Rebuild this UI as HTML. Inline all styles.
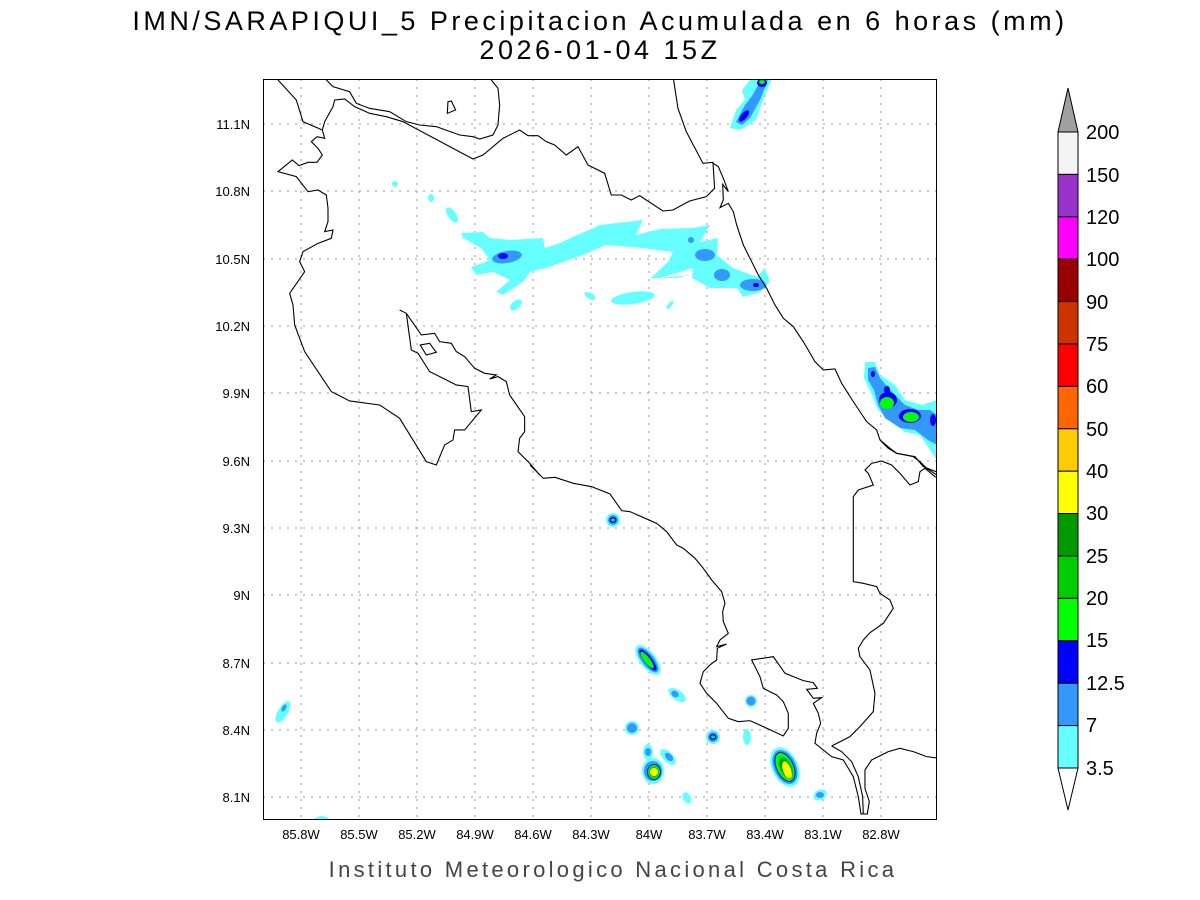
<!DOCTYPE html>
<html><head><meta charset="utf-8"><style>
body{margin:0;background:#fff;}
svg{display:block;font-family:"Liberation Sans","DejaVu Sans",sans-serif;}
</style></head><body>
<svg width="1200" height="900" viewBox="0 0 1200 900" xmlns="http://www.w3.org/2000/svg">
<rect width="1200" height="900" fill="#fff"/>
<text x="600" y="30" font-size="27" text-anchor="middle" fill="#000" letter-spacing="3.5" font-weight="normal">IMN/SARAPIQUI_5 Precipitacion Acumulada en 6 horas (mm)</text>
<text x="600" y="59" font-size="27" text-anchor="middle" fill="#000" letter-spacing="3.5">2026-01-04 15Z</text>

<defs><clipPath id="c"><rect x="263" y="79" width="674" height="741"/></clipPath></defs>
<g clip-path="url(#c)">
<g stroke="#999" stroke-width="1" stroke-dasharray="2,6">
<line x1="301" y1="79" x2="301" y2="820"/><line x1="359" y1="79" x2="359" y2="820"/><line x1="417" y1="79" x2="417" y2="820"/><line x1="475" y1="79" x2="475" y2="820"/><line x1="533" y1="79" x2="533" y2="820"/><line x1="591" y1="79" x2="591" y2="820"/><line x1="649" y1="79" x2="649" y2="820"/><line x1="707" y1="79" x2="707" y2="820"/><line x1="765" y1="79" x2="765" y2="820"/><line x1="823" y1="79" x2="823" y2="820"/><line x1="881" y1="79" x2="881" y2="820"/>
<line x1="263" y1="124" x2="937" y2="124"/><line x1="263" y1="191" x2="937" y2="191"/><line x1="263" y1="259" x2="937" y2="259"/><line x1="263" y1="326" x2="937" y2="326"/><line x1="263" y1="393" x2="937" y2="393"/><line x1="263" y1="461" x2="937" y2="461"/><line x1="263" y1="528" x2="937" y2="528"/><line x1="263" y1="595" x2="937" y2="595"/><line x1="263" y1="663" x2="937" y2="663"/><line x1="263" y1="730" x2="937" y2="730"/><line x1="263" y1="797" x2="937" y2="797"/>
</g>

<polygon fill="#66ffff" points="461,233 483,232 490,238 510,240 543,238 545,248 560,243 575,236 585,232 600,225 643,220 636,235 660,229 693,228 710,225 700,242 718,238 717,255 733,268 757,277 765,268 770,282 760,292 743,297 737,288 710,288 692,278 693,268 680,272 660,278 690,275 676,278 651,278 668,262 673,252 643,248 606,245 583,255 546,268 530,272 523,282 503,295 496,292 510,280 493,272 476,275 471,267 483,263 490,260 481,248 463,238"/>
<ellipse cx="507" cy="257" rx="15" ry="6" fill="#3399ff" transform="rotate(-10 507 257)"/>
<ellipse cx="503" cy="256" rx="5" ry="3" fill="#0000ff"/>
<ellipse cx="691" cy="240" rx="3" ry="3" fill="#3399ff"/>
<ellipse cx="705" cy="255" rx="10" ry="6" fill="#3399ff"/>
<ellipse cx="722" cy="275" rx="8" ry="6" fill="#3399ff"/>
<ellipse cx="753" cy="285" rx="13" ry="6" fill="#3399ff"/>
<ellipse cx="756" cy="285" rx="3" ry="2" fill="#0000ff"/>
<ellipse cx="395" cy="184" rx="3" ry="3" fill="#66ffff"/>
<ellipse cx="431" cy="198" rx="3" ry="4" fill="#66ffff"/>
<ellipse cx="452" cy="215" rx="4" ry="9" fill="#66ffff" transform="rotate(-35 452 215)"/>
<ellipse cx="516" cy="305" rx="4" ry="7" fill="#66ffff" transform="rotate(50 516 305)"/>
<ellipse cx="590" cy="296" rx="6" ry="3" fill="#66ffff" transform="rotate(30 590 296)"/>
<ellipse cx="633" cy="298" rx="22" ry="6" fill="#66ffff" transform="rotate(-8 633 298)"/>
<ellipse cx="670" cy="305" rx="2" ry="5" fill="#66ffff" transform="rotate(40 670 305)"/>
<polygon fill="#66ffff" points="730,128 736,110 745,100 742,90 750,80 772,79 763,100 756,120 740,130"/>
<polygon fill="#3399ff" points="736,122 745,105 752,96 760,82 768,80 760,100 750,118 742,125"/>
<ellipse cx="744" cy="116" rx="3" ry="7" fill="#0000ff" transform="rotate(40 744 116)"/>
<ellipse cx="762" cy="83" rx="5" ry="4" fill="#0000ff"/>
<ellipse cx="762" cy="82" rx="3" ry="2" fill="#00ff00"/>
<polygon fill="#66ffff" points="865,362 875,362 880,375 895,385 905,400 922,405 937,400 937,460 930,450 920,435 905,432 890,420 878,410 872,395 864,378"/>
<polygon fill="#3399ff" points="868,368 875,367 880,378 890,390 905,405 918,410 930,410 937,415 937,445 928,440 915,430 900,428 885,418 878,405 874,390 868,380"/>
<ellipse cx="873" cy="374" rx="2" ry="3" fill="#0000ff"/>
<ellipse cx="888" cy="400" rx="9" ry="8" fill="#0000ff"/>
<ellipse cx="887" cy="403" rx="7" ry="6" fill="#00ff00"/>
<ellipse cx="887" cy="390" rx="3" ry="4" fill="#0000ff"/>
<ellipse cx="910" cy="416" rx="11" ry="7" fill="#0000ff"/>
<ellipse cx="911" cy="417" rx="8" ry="5" fill="#00ff00"/>
<ellipse cx="933" cy="420" rx="3" ry="6" fill="#0000ff"/>
<g>
<ellipse cx="613" cy="520" rx="7" ry="7" fill="#66ffff"/><ellipse cx="613" cy="520" rx="5" ry="5" fill="#3399ff"/><ellipse cx="613" cy="520" rx="3.5" ry="3" fill="#0000ff"/><ellipse cx="613" cy="520" rx="2" ry="1.5" fill="#00ff00"/>
<ellipse cx="648" cy="660" rx="8" ry="18" fill="#66ffff" transform="rotate(-38 648 660)"/><ellipse cx="648" cy="660" rx="6" ry="15" fill="#3399ff" transform="rotate(-38 648 660)"/><ellipse cx="648" cy="660" rx="4" ry="13" fill="#0000ff" transform="rotate(-38 648 660)"/><ellipse cx="647" cy="660" rx="3" ry="10" fill="#00ff00" transform="rotate(-38 647 660)"/>
<ellipse cx="677" cy="695" rx="5" ry="10" fill="#66ffff" transform="rotate(-55 677 695)"/><ellipse cx="675" cy="694" rx="3" ry="4" fill="#3399ff" transform="rotate(-55 675 694)"/>
<ellipse cx="632" cy="728" rx="7" ry="7" fill="#66ffff"/><ellipse cx="632" cy="728" rx="5" ry="5" fill="#3399ff"/>
<ellipse cx="713" cy="737" rx="7" ry="7" fill="#66ffff"/><ellipse cx="713" cy="737" rx="5" ry="5" fill="#3399ff"/><ellipse cx="713" cy="737" rx="3.5" ry="3" fill="#0000ff"/><ellipse cx="713" cy="737" rx="2" ry="1.5" fill="#00ff00"/>
<ellipse cx="751" cy="701" rx="6" ry="6" fill="#66ffff"/><ellipse cx="751" cy="701" rx="4.5" ry="4.5" fill="#3399ff"/>
<ellipse cx="747" cy="737" rx="4" ry="8" fill="#66ffff"/>
<ellipse cx="648" cy="752" rx="5" ry="8" fill="#66ffff"/><ellipse cx="648" cy="752" rx="3" ry="4" fill="#3399ff"/>
<ellipse cx="668" cy="757" rx="5" ry="10" fill="#66ffff" transform="rotate(-45 668 757)"/><ellipse cx="669" cy="757" rx="3" ry="5" fill="#3399ff" transform="rotate(-45 669 757)"/>
<ellipse cx="653" cy="771" rx="11" ry="13" fill="#66ffff"/><ellipse cx="653" cy="771" rx="9" ry="10" fill="#3399ff"/><ellipse cx="654" cy="772" rx="7" ry="8" fill="#0000ff"/><ellipse cx="654" cy="772" rx="6" ry="7" fill="#00ff00"/><ellipse cx="654" cy="772" rx="5" ry="5.5" fill="#00cc00"/><ellipse cx="654" cy="772" rx="4" ry="4" fill="#ffff00"/>
<ellipse cx="687" cy="798" rx="4" ry="6" fill="#66ffff" transform="rotate(-30 687 798)"/>
<ellipse cx="785" cy="767" rx="13" ry="21" fill="#66ffff" transform="rotate(-25 785 767)"/><ellipse cx="785" cy="767" rx="11" ry="18" fill="#3399ff" transform="rotate(-25 785 767)"/><ellipse cx="785" cy="767" rx="9" ry="16" fill="#0000ff" transform="rotate(-25 785 767)"/><ellipse cx="785" cy="767" rx="8" ry="15" fill="#00ff00" transform="rotate(-25 785 767)"/><ellipse cx="786" cy="768" rx="6" ry="12" fill="#00cc00" transform="rotate(-25 786 768)"/><ellipse cx="786" cy="768" rx="5" ry="10" fill="#009900" transform="rotate(-25 786 768)"/><ellipse cx="787" cy="770" rx="4" ry="9" fill="#ffff00" transform="rotate(-20 787 770)"/>
<ellipse cx="820" cy="795" rx="7" ry="5" fill="#66ffff" transform="rotate(-30 820 795)"/><ellipse cx="820" cy="795" rx="4" ry="3" fill="#3399ff"/>
<ellipse cx="283" cy="712" rx="5" ry="12" fill="#66ffff" transform="rotate(30 283 712)"/><ellipse cx="284" cy="708" rx="2" ry="4" fill="#3399ff" transform="rotate(30 284 708)"/>
<ellipse cx="322" cy="820" rx="7" ry="4" fill="#66ffff"/>
</g>

<g fill="none" stroke="#000" stroke-width="1.1">
<g transform="translate(263,75) scale(0.3333)">
<polyline vector-effect="non-scaling-stroke" points="45,15 100,75 120,140 178,165 185,190 162,185 145,200 165,220 178,240 162,262 135,262 108,272 88,255 45,290 100,305 135,350 165,345 190,360 195,400 195,440 185,470 210,465 205,490 165,505 120,530 110,560 125,590 80,655 90,690 95,750 125,830 205,950 260,978 350,990 410,1030 490,1160 520,1170 545,1110 570,1095 575,1065 605,1065 655,1005 625,1010 615,935 580,930 540,910 500,890 465,835 445,825 430,715 410,705"/>
<polyline vector-effect="non-scaling-stroke" points="430,715 475,780 515,775 530,800 565,805 580,830 605,845 635,880 665,895 700,900 680,912 705,905 730,920 740,960 785,1025 785,1070 770,1090 765,1130 800,1165 830,1200"/>
<polyline vector-effect="non-scaling-stroke" points="178,165 185,140 210,95 215,75 245,72 275,95 320,115 370,125 420,140 630,252 660,240 720,190 770,165 795,182 825,182 850,200 875,210 910,240 945,215 975,270 1025,295 1045,360 1075,360 1105,375 1130,362 1200,408 1230,405 1280,378 1330,365 1355,340 1350,262 1320,265 1270,170 1245,100 1232,15"/>
<polyline vector-effect="non-scaling-stroke" points="190,15 210,35 260,50 280,85 320,100 380,110 430,140 470,150 520,155 590,180 630,185 650,192 690,180 705,150 710,90 705,40 685,15"/>
<polygon vector-effect="non-scaling-stroke" points="555,80 565,78 578,105 553,115"/>
<polygon vector-effect="non-scaling-stroke" points="472,810 500,805 520,832 490,840"/>
</g>
<g transform="translate(660,75) scale(0.3333)">
<polyline vector-effect="non-scaling-stroke" points="155,262 175,275 190,310 205,350 188,328 190,375 180,398 205,385 220,410 230,450 250,510 270,550 295,600 320,640 345,690 370,730 400,755 430,800 465,860 490,885 525,882 545,925 580,980 620,1040 650,1065 660,1095 690,1120 710,1135 760,1145 780,1160 800,1180 830,1200"/>
</g>
<g transform="translate(530,440) scale(0.3333)">
<polyline vector-effect="non-scaling-stroke" points="0,75 40,115 75,112 130,130 185,140 240,162 275,212 300,215 380,250 410,275 440,315 460,325 495,355 520,385 545,420 575,455 585,490 578,515 580,545 595,580 570,600 560,620 590,612 562,625 560,660 540,675 520,695 510,730 530,760 560,790 595,835 625,845 660,842 700,860 760,888 775,865 775,820 760,785 740,765 700,745 690,710 665,660 730,650 765,700 820,722 850,728 862,745 830,748 850,775 875,773 850,790 865,820 872,850 860,880 855,910 905,950 940,960 970,1010 985,1070 993,1122 1012,1122 1018,1085 1005,1045 1005,990 1025,960 1075,935 1110,925 1150,935 1190,950 1230,955"/>
<polyline vector-effect="non-scaling-stroke" points="905,918 935,935 965,965 985,1010 998,1070 1000,1122"/>
<polyline vector-effect="non-scaling-stroke" points="905,918 960,890 990,860 1030,815 1035,760 1020,690 990,650 985,625 1000,600 1020,578 1060,550 1090,505 1080,480 1050,460 1040,440 1000,430 970,425 970,170 985,150 1030,135 1015,100 1005,90 1025,70 1055,63 1085,75 1110,100 1140,135 1165,125 1170,95 1185,85 1215,110 1230,115"/>
<polyline vector-effect="non-scaling-stroke" points="1050,0 1075,25 1100,40 1155,50 1180,80 1230,100"/>
</g>
</g>
</g>
<rect x="263.5" y="79.5" width="673" height="740" fill="none" stroke="#000" stroke-width="1"/>

<g font-size="13" fill="#000" text-anchor="middle">
<text x="301" y="839">85.8W</text><text x="359" y="839">85.5W</text><text x="417" y="839">85.2W</text><text x="475" y="839">84.9W</text><text x="533" y="839">84.6W</text><text x="591" y="839">84.3W</text><text x="649" y="839">84W</text><text x="707" y="839">83.7W</text><text x="765" y="839">83.4W</text><text x="823" y="839">83.1W</text><text x="881" y="839">82.8W</text>
</g>
<g font-size="13" fill="#000" text-anchor="end">
<text x="250" y="129">11.1N</text><text x="250" y="196">10.8N</text><text x="250" y="264">10.5N</text><text x="250" y="331">10.2N</text><text x="250" y="398">9.9N</text><text x="250" y="466">9.6N</text><text x="250" y="533">9.3N</text><text x="250" y="600">9N</text><text x="250" y="668">8.7N</text><text x="250" y="735">8.4N</text><text x="250" y="802">8.1N</text>
</g>
<text x="613" y="877" font-size="22" text-anchor="middle" fill="#444" letter-spacing="3.3">Instituto Meteorologico Nacional Costa Rica</text>

<g stroke="#000" stroke-width="1">
<polygon points="1058,132 1068,88 1078,132" fill="#a0a0a0"/>
<rect x="1058" y="132" width="20" height="42.4" fill="#f4f4f4"/>
<rect x="1058" y="174.4" width="20" height="42.4" fill="#9933cc"/>
<rect x="1058" y="216.8" width="20" height="42.4" fill="#ff00ff"/>
<rect x="1058" y="259.2" width="20" height="42.4" fill="#990000"/>
<rect x="1058" y="301.6" width="20" height="42.4" fill="#cc3300"/>
<rect x="1058" y="344" width="20" height="42.4" fill="#ff0000"/>
<rect x="1058" y="386.4" width="20" height="42.4" fill="#ff6600"/>
<rect x="1058" y="428.8" width="20" height="42.4" fill="#ffcc00"/>
<rect x="1058" y="471.2" width="20" height="42.4" fill="#ffff00"/>
<rect x="1058" y="513.6" width="20" height="42.4" fill="#009900"/>
<rect x="1058" y="556" width="20" height="42.4" fill="#00cc00"/>
<rect x="1058" y="598.4" width="20" height="42.4" fill="#00ff00"/>
<rect x="1058" y="640.8" width="20" height="42.4" fill="#0000ff"/>
<rect x="1058" y="683.2" width="20" height="42.4" fill="#3399ff"/>
<rect x="1058" y="725.6" width="20" height="42.4" fill="#66ffff"/>
<polygon points="1058,768 1068,810 1078,768" fill="#fff"/>
</g>
<g font-size="20" fill="#000">
<text x="1086" y="139">200</text><text x="1086" y="182">150</text><text x="1086" y="224">120</text><text x="1086" y="266">100</text><text x="1086" y="309">90</text><text x="1086" y="351">75</text><text x="1086" y="393">60</text><text x="1086" y="436">50</text><text x="1086" y="478">40</text><text x="1086" y="520">30</text><text x="1086" y="563">25</text><text x="1086" y="605">20</text><text x="1086" y="647">15</text><text x="1086" y="690">12.5</text><text x="1086" y="732">7</text><text x="1086" y="775">3.5</text>
</g>
</svg>
</body></html>
